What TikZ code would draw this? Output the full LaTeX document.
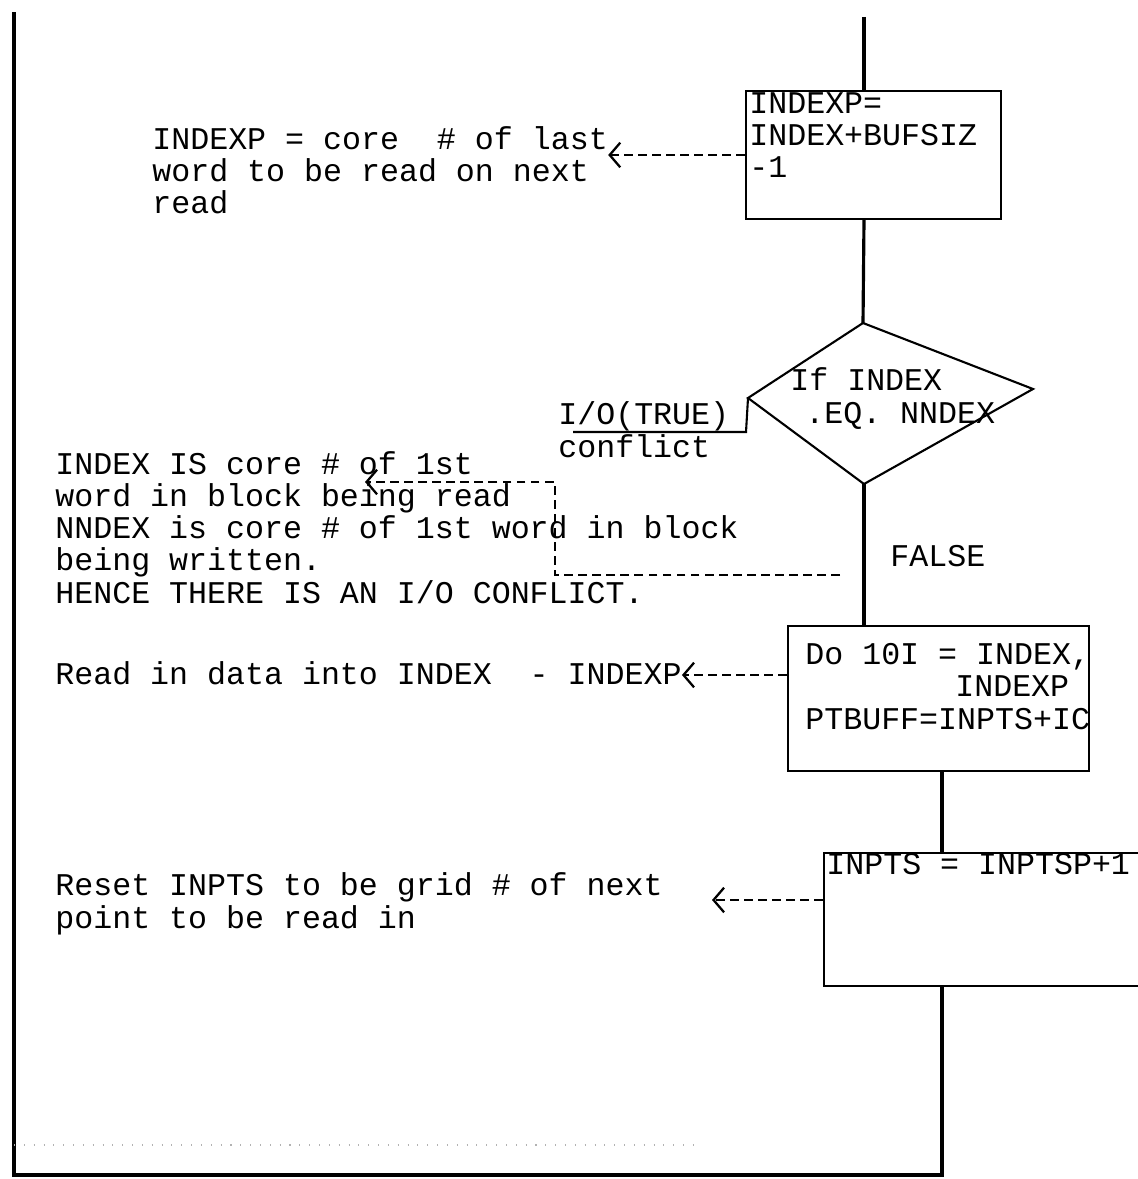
\documentclass[tikz,border=0pt]{standalone}
\usepackage{fontspec}
\newfontfamily\typewr{Liberation Mono}
\usetikzlibrary{arrows.meta}
\tikzset{
  flow/.style={line width=1.8pt},
  blk/.style={draw, line width=1.2pt, inner sep=0pt, anchor=north west},
  txt/.style={anchor=base west, inner sep=0pt, align=left, font=\typewr\fontsize{18}{18.3}\selectfont},
  hint/.style={line width=1pt, dash pattern=on 5pt off 3pt, -{Straight Barb[length=6pt,width=14pt,line width=1.3pt]}},
}
\begin{document}
\begin{tikzpicture}[x=0.02cm,y=-0.02cm]
  \useasboundingbox (0,0) rectangle (1138,1179);
  % boxes
  \node[blk, minimum width=5.1cm, minimum height=2.56cm] (box1) at (745,90) {};
  \node[txt] (b1t) at (749,178) {INDEXP=\\INDEX+BUFSIZ\\-1};
  \node[blk, minimum width=6.02cm, minimum height=2.9cm] (box2) at (787,625) {};
  \node[txt] (b2t) at (805,729) {Do 10I = INDEX,\\\hspace*{3cm}INDEXP\\PTBUFF=INPTS+IC};
  \node[blk, minimum width=6.6cm, minimum height=2.66cm] (box3) at (823,852) {};
  \node[txt] (b3t) at (826,874) {INPTS = INPTSP+1};
  % decision
  \coordinate (dt) at (863,323); \coordinate (dr) at (1033,389);
  \coordinate (db) at (864,484); \coordinate (dl) at (748,398);
  \draw[line width=1.2pt] (dt) -- (dr) -- (db) -- (dl) -- cycle;
  \node[txt] (cond) at (790,423) {If INDEX\\\hspace*{0.3cm}.EQ. NNDEX};
  \coordinate (tb) at (746,432); \coordinate (tu) at (573,432);
  \draw[line width=1.2pt] (dl) -- (tb) -- (tu);
  \node[txt] (iot) at (558,457) {I/O(TRUE)\\conflict};
  \node[txt] (fls) at (890,566) {FALSE};
  % notes
  \node[txt] (n1) at (152,214) {INDEXP = core~~\# of last\\word to be read on next\\read};
  \node[txt] (n2) at (55,603) {INDEX IS core \# of 1st\\word in block being read\\NNDEX is core \# of 1st word in block\\being written.\\HENCE THERE IS AN I/O CONFLICT.};
  \node[txt] (n3) at (55,684) {Read in data into INDEX~~-~INDEXP};
  \node[txt] (n4) at (55,928) {Reset INPTS to be grid \# of next\\point to be read in};
  % flow lines and frame
  \coordinate (cola) at (864,17); \coordinate (colb) at (942,0);
  \coordinate (ftop) at (14,12); \coordinate (fbot) at (14,1175);
  \draw[flow] (cola) -- (cola |- box1.north);
  \draw[flow] (cola |- box1.south) -- (dt);
  \draw[flow] (db) -- (db |- box2.north);
  \draw[flow] (box2.south -| colb) -- (box3.north -| colb);
  \draw[flow] (box3.south -| colb) -- (fbot -| colb) -- (fbot) -- (ftop);
  \draw[gray!60, line width=0.6pt, dash pattern=on 0.6pt off 5pt] (fbot |- 0,1145) -- (700,1145);
  % dashed pointers
  \coordinate (fb) at (840,575); \coordinate (h3) at (712,900);
  \draw[hint] (box1.west |- 0,155) -- (n1.east |- 0,155);
  \draw[hint] (fb) -- (555,575) -- (555,482) -- (365,482);
  \draw[hint] (box2.west |- 0,675) -- (n3.east |- 0,675);
  \draw[hint] (box3.west |- h3) -- (h3);
\end{tikzpicture}
\end{document}
